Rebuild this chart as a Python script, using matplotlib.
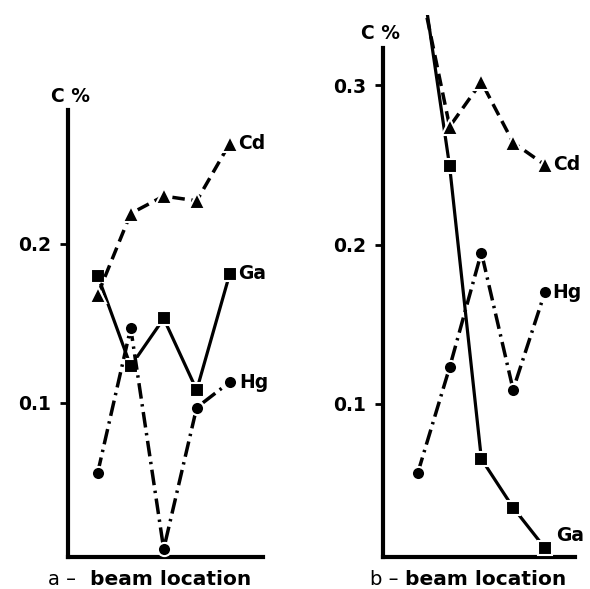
"""
Two-panel concentration profile along the beam (C % vs beam location)
"""
import matplotlib
matplotlib.use('Agg')
import matplotlib.pyplot as plt

# beam locations
x = [1, 2, 3, 4, 5]

# panel a
a_cd = [0.168, 0.219, 0.230, 0.227, 0.263]
a_ga = [0.180, 0.123, 0.153, 0.108, 0.181]
a_hg = [0.056, 0.147, 0.008, 0.097, 0.113]

# panel b (first Cd / Ga points run off the top of the chart)
b_cd = [0.370, 0.274, 0.302, 0.264, 0.250]
b_ga = [0.385, 0.249, 0.0655, 0.035, 0.0097]
b_hg = [0.057, 0.123, 0.195, 0.109, 0.170]

a_ticks = [0.1, 0.2]
b_ticks = [0.1, 0.2, 0.3]
tick_labels_a = ['0.1', '0.2']
tick_labels_b = ['0.1', '0.2', '0.3']

FS = 13.5
W, H = 590, 589

fig = plt.figure(figsize=(5.90, 5.89), dpi=100)
fig.patch.set_facecolor('white')

# styles
cd_style = dict(color='black', lw=2.5, dashes=(3.6, 1.9), marker='^', ms=12,
                mfc='black', mec='white', mew=1.5)
ga_style = dict(color='black', lw=2.3, linestyle='-', marker='s', ms=10.5,
                mfc='black', mec='white', mew=1.5)
hg_style = dict(color='black', lw=2.5, dashes=(4.5, 1.6, 0.7, 1.6), marker='o', ms=9.5,
                mfc='black', mec='white', mew=1.5)


def setup_axes(ax, xlim, ylim, spine_top, ticks, labels):
    ax.set_xlim(*xlim)
    ax.set_ylim(*ylim)
    for side in ('top', 'right'):
        ax.spines[side].set_visible(False)
    for side in ('left', 'bottom'):
        ax.spines[side].set_linewidth(3)
        ax.spines[side].set_capstyle('projecting')
    ax.spines['left'].set_bounds(ylim[0], spine_top)
    ax.set_xticks([])
    ax.set_yticks(ticks)
    ax.set_yticklabels(labels, fontsize=FS, fontweight='bold')
    ax.tick_params(axis='y', direction='out', length=6, width=2, pad=6)
    ax.patch.set_alpha(0)


def series_label(ax, xv, yv, text, dx, dy):
    ax.annotate(text, xy=(xv, yv), xytext=(dx, dy), textcoords='offset points',
                ha='left', va='center', fontsize=FS, fontweight='bold',
                annotation_clip=False)


# ---- panel a ----
axa = fig.add_axes([68 / W, 32 / H, 194.7 / W, 446.8 / H])
setup_axes(axa, (0.1, 6.0), (0.003, 0.284), 0.284, a_ticks, tick_labels_a)
axa.plot(x, a_ga, **ga_style, zorder=3)
axa.plot(x, a_cd, **cd_style, zorder=4)
axa.plot(x, a_hg, **hg_style, zorder=5)
series_label(axa, x[-1], a_cd[-1], 'Cd', 6, 0)
series_label(axa, x[-1], a_ga[-1], 'Ga', 6, 0)
series_label(axa, x[-1], a_hg[-1], 'Hg', 7, 0)
axa.annotate('C %', xy=(0.1, 0.284), xytext=(1.5, 10), textcoords='offset points',
             ha='center', va='center', fontsize=FS, fontweight='bold',
             annotation_clip=False)

# ---- panel b ----
axb = fig.add_axes([383 / W, 32 / H, 192 / W, 542 / H])
setup_axes(axb, (-0.1, 5.95), (0.004, 0.344), 0.323, b_ticks, tick_labels_b)
axb.plot(x, b_ga, **ga_style, zorder=3)
axb.plot(x, b_cd, **cd_style, zorder=4)
axb.plot(x, b_hg, **hg_style, zorder=5)
series_label(axb, x[-1], b_cd[-1], 'Cd', 6, 0)
series_label(axb, x[-1], b_hg[-1], 'Hg', 5, 0)
series_label(axb, x[-1], b_ga[-1], 'Ga', 8, 9)
axb.annotate('C %', xy=(-0.1, 0.323), xytext=(-2, 11), textcoords='offset points',
             ha='center', va='center', fontsize=FS, fontweight='bold',
             annotation_clip=False)

# x labels: plain letter + bold caption
base_y = 4 / H
fig.text(76 / W, base_y, 'a –', ha='right', va='baseline', fontsize=14)
fig.text(90 / W, base_y, 'beam location', ha='left', va='baseline',
         fontsize=14.5, fontweight='bold')
fig.text(398 / W, base_y, 'b –', ha='right', va='baseline', fontsize=14)
fig.text(405 / W, base_y, 'beam location', ha='left', va='baseline',
         fontsize=14.5, fontweight='bold')

fig.savefig('out.png', dpi=100, facecolor='white')
plt.close(fig)
